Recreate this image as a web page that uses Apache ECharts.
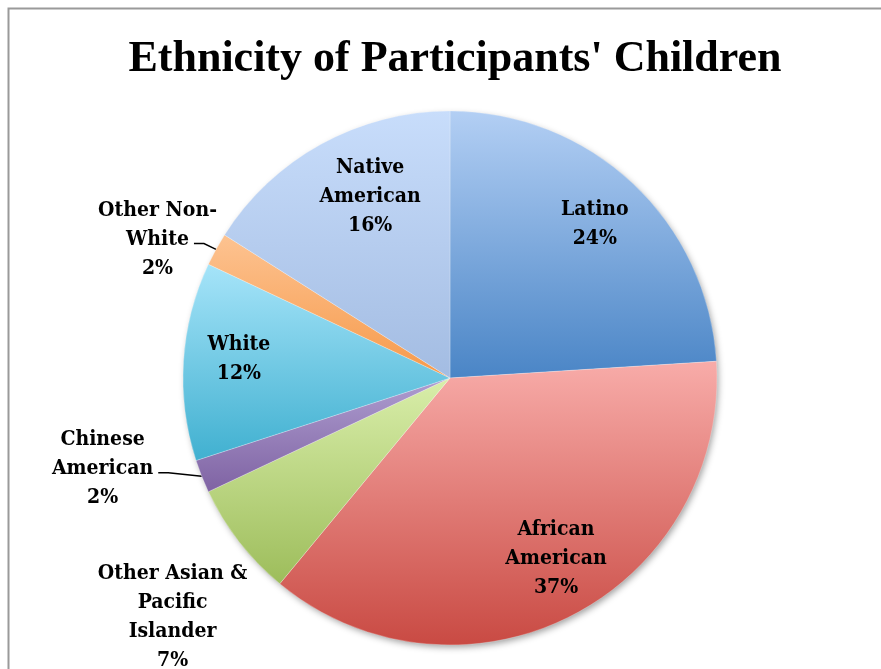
<!DOCTYPE html>
<html>
<head>
<meta charset="utf-8">
<script src="https://cdn.jsdelivr.net/npm/echarts@6/dist/echarts.min.js"></script>
<style>html,body{margin:0;padding:0;background:#fff}#c{width:881px;height:669px}</style>
</head>
<body>
<div id="c"></div>
<script>
const categories = ['Latino', 'African American', 'Other Asian & Pacific Islander', 'Chinese American', 'White', 'Other Non-White', 'Native American'];
const wrappedNames = ['Latino', 'African\nAmerican', 'Other Asian &\nPacific\nIslander', 'Chinese\nAmerican', 'White', 'Other Non-\nWhite', 'Native\nAmerican'];
const values = [24, 37, 7, 2, 12, 2, 16];
const topColors = ['#b3cff4', '#f8aca9', '#d9eeaa', '#ae9dd0', '#a6e4f9', '#fdc391', '#c8ddfb'];
const bottomColors = ['#4a85c6', '#c94a43', '#9dbd5b', '#7f63a3', '#40b0d0', '#f6994a', '#a3bce2'];
const outsideItems = ['Other Asian & Pacific Islander', 'Chinese American', 'Other Non-White'];
// label nudges (style only) per category, in pixels
const labelNudgeX = [0, 10, -24, -55, 0, -15, 22];
const labelNudgeY = [0, -8, 68, -12, -6, -4, 4];

const FONT = 'DejaVu Serif Condensed';
const FONT_SIZE = 21;
const chart = echarts.init(document.getElementById('c'));

const measureCtx = document.createElement('canvas').getContext('2d');
measureCtx.font = 'bold ' + FONT_SIZE + 'px "' + FONT + '"';

function grad(i) {
  return new echarts.graphic.LinearGradient(0, 0, 0, 1, [
    {offset: 0, color: topColors[i]},
    {offset: 1, color: bottomColors[i]}
  ]);
}

const mainData = categories.map((name, i) => {
  const outside = outsideItems.indexOf(name) >= 0;
  return {
    name: name,
    value: values[i],
    itemStyle: {color: grad(i)},
    label: {show: outside},
    labelLine: {show: outside && name !== 'Other Asian & Pacific Islander'}
  };
});

const overlayData = categories.map((name, i) => ({
  name: name,
  value: values[i],
  label: {show: outsideItems.indexOf(name) < 0}
}));

function fmt(p) {
  return wrappedNames[p.dataIndex] + '\n' + Math.round(p.percent) + '%';
}
function nudgeInside(p) {
  return {align: 'center', dx: labelNudgeX[p.dataIndex], dy: labelNudgeY[p.dataIndex]};
}
function nudgeOutside(p) {
  const i = p.dataIndex;
  const out = {align: 'center', dx: labelNudgeX[i], dy: labelNudgeY[i]};
  const lp = p.labelLinePoints;
  if (lp && lp.length === 3) {
    const cx = lp[2][0] - 6 + labelNudgeX[i];
    const cy = lp[2][1] + labelNudgeY[i];
    const lines = wrappedNames[i].split('\n');
    const mid = lines[lines.length - 1];
    const w = measureCtx.measureText(mid).width;
    const endX = cx + w / 2 + 6;
    const y = cy + 4;
    out.labelLinePoints = [lp[0].slice(), [endX + 10, y], [endX, y]];
  }
  return out;
}

const labelFont = {fontFamily: FONT, fontWeight: 'bold', fontSize: FONT_SIZE, lineHeight: 29, color: '#000'};

chart.setOption({
  animation: false,
  graphic: [{
    type: 'rect', left: 6, top: 6, shape: {width: 900, height: 700},
    style: {fill: 'none', stroke: '#9a9a9a', lineWidth: 2}, silent: true
  }],
  title: {
    text: "Ethnicity of Participants' Children",
    left: 450, top: 33, textAlign: 'center',
    textStyle: {fontFamily: 'Liberation Serif', fontWeight: 'bold', fontSize: 44, color: '#000'}
  },
  series: [{
    // soft drop shadow under the whole pie
    type: 'pie',
    center: [450, 378],
    radius: [0, 266],
    silent: true,
    label: {show: false},
    labelLine: {show: false},
    data: [{value: 1, name: ''}],
    itemStyle: {color: '#ffffff', shadowBlur: 7, shadowColor: 'rgba(0,0,0,0.4)', shadowOffsetX: 2, shadowOffsetY: 3},
    emphasis: {disabled: true}
  }, {
    type: 'pie',
    center: [450, 378],
    radius: [0, 267],
    startAngle: 90,
    clockwise: true,
    avoidLabelOverlap: false,
    data: mainData,
    itemStyle: {borderColor: 'rgba(255,255,255,0.4)', borderWidth: 0.6},
    label: Object.assign({position: 'outside', formatter: fmt}, labelFont),
    labelLine: {length: 12, length2: 28, lineStyle: {color: '#000', width: 1.5}},
    labelLayout: nudgeOutside,
    emphasis: {disabled: true}
  }, {
    type: 'pie',
    center: [450, 378],
    radius: [150, 267],
    startAngle: 90,
    clockwise: true,
    silent: true,
    data: overlayData,
    itemStyle: {color: 'rgba(0,0,0,0)'},
    label: Object.assign({position: 'inside', formatter: fmt}, labelFont),
    labelLine: {show: false},
    labelLayout: nudgeInside,
    emphasis: {disabled: true}
  }]
});
</script>
</body>
</html>
